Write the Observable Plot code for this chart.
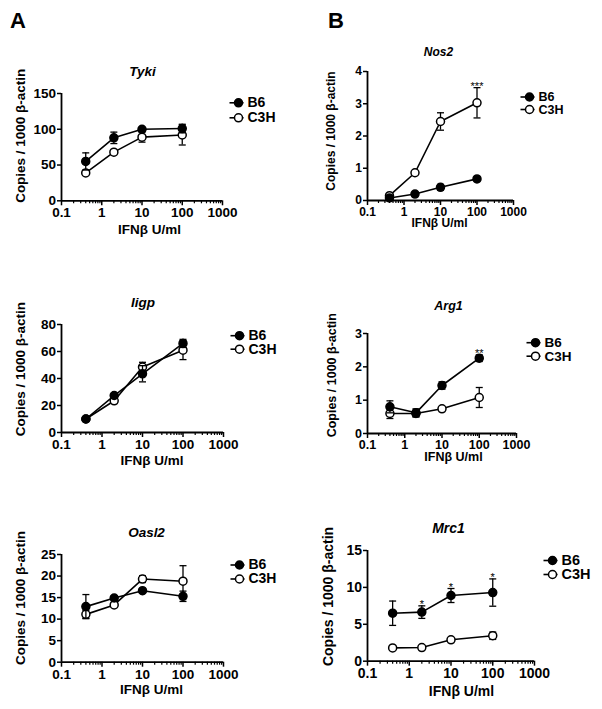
<!DOCTYPE html>
<html><head><meta charset="utf-8">
<script src="https://cdn.jsdelivr.net/npm/d3@7"></script>
<script src="https://cdn.jsdelivr.net/npm/@observablehq/plot@0.6"></script>
<style>
body{margin:0;background:#fff;}
#root{position:relative;width:602px;height:709px;overflow:hidden;font-family:"Liberation Sans",Arial,sans-serif;background:#fff;}
.panel{position:absolute;}
.letter{position:absolute;font-weight:bold;font-size:22px;line-height:1;}
</style></head><body><div id="root"></div>
<script>
// ---- data ----
const doses = [0.4, 2, 10, 100];
const xMajorTicks = [0.1, 1, 10, 100, 1000];
const strains = ["B6", "C3H"];
const xLabel = "IFNβ U/ml";
const yLabel = "Copies / 1000 β-actin";

const tykiB6 = [55, 88, 100, 101];
const tykiB6Err = [12, 8, 2, 6];
const tykiC3H = [39, 68, 89, 92];
const tykiC3HErr = [2, 2, 7, 14];
const tykiTicks = [0, 50, 100, 150];

const nos2B6 = [0.08, 0.2, 0.41, 0.67];
const nos2B6Err = [0.02, 0.03, 0.09, 0.04];
const nos2C3H = [0.15, 0.86, 2.45, 3.03];
const nos2C3HErr = [0.03, 0.04, 0.27, 0.47];
const nos2Stars = ["", "", "", "***"];
const nos2Ticks = [0, 1, 2, 3, 4];

const iigpB6 = [10, 27.4, 43.5, 66];
const iigpB6Err = [1, 1.5, 6, 3];
const iigpC3H = [10, 23.5, 48.5, 61];
const iigpC3HErr = [1, 1.5, 3.5, 7];
const iigpTicks = [0, 20, 40, 60, 80];

const arg1B6 = [0.8, 0.62, 1.44, 2.26];
const arg1B6Err = [0.18, 0.12, 0.11, 0.1];
const arg1C3H = [0.6, 0.6, 0.74, 1.08];
const arg1C3HErr = [0.15, 0.1, 0.04, 0.3];
const arg1Stars = ["", "", "", "**"];
const arg1Ticks = [0, 1, 2, 3];

const oasl2B6 = [12.9, 14.9, 16.6, 15.3];
const oasl2B6Err = [2.8, 0.5, 0.4, 1.2];
const oasl2C3H = [11.1, 13.3, 19.3, 18.8];
const oasl2C3HErr = [0.9, 0.5, 0.8, 3.6];
const oasl2Ticks = [0, 5, 10, 15, 20, 25];

const mrc1B6 = [6.5, 6.65, 8.9, 9.3];
const mrc1B6Err = [1.65, 0.85, 0.95, 1.85];
const mrc1C3H = [1.8, 1.85, 2.9, 3.45];
const mrc1C3HErr = [0.1, 0.1, 0.15, 0.5];
const mrc1Stars = ["", "*", "*", "*"];
const mrc1Ticks = [0, 5, 10, 15];

const minorTicks = [];
for (const dec of [0.1, 1, 10, 100]) for (let k = 2; k <= 9; k++) minorTicks.push(+(dec * k).toPrecision(3));

// ---- layout ----
const panels = [
  {title: "Tyki", col: 0, fx: [61, 222], fy: [92.7, 200], ticks: tykiTicks,
   b6: tykiB6, b6e: tykiB6Err, c3: tykiC3H, c3e: tykiC3HErr, stars: null, starOn: "B6",
   t: [142, 71], xl: [149, 229], yl: [20, 135], lg: [238, 102, 117], lfs: 14, fs: 13.5},
  {title: "Nos2", col: 300, fx: [367, 513], fy: [71, 200], ticks: nos2Ticks,
   b6: nos2B6, b6e: nos2B6Err, c3: nos2C3H, c3e: nos2C3HErr, stars: nos2Stars, starOn: "C3H",
   t: [438, 52], xl: [439, 223], yl: [331, 130.5], lg: [529, 96.5, 109], lfs: 12.5, fs: 12},
  {title: "Iigp", col: 0, fx: [61, 223], fy: [324.3, 432.3], ticks: iigpTicks,
   b6: iigpB6, b6e: iigpB6Err, c3: iigpC3H, c3e: iigpC3HErr, stars: null, starOn: "B6",
   t: [142.5, 302.5], xl: [151.5, 460], yl: [20, 369], lg: [239, 335.5, 349], lfs: 14, fs: 13.5},
  {title: "Arg1", col: 300, fx: [367, 516], fy: [333.3, 433.3], ticks: arg1Ticks,
   b6: arg1B6, b6e: arg1B6Err, c3: arg1C3H, c3e: arg1C3HErr, stars: arg1Stars, starOn: "B6",
   t: [448, 306], xl: [453, 457], yl: [331, 375], lg: [535, 342.5, 356], lfs: 13.5, fs: 12.5},
  {title: "Oasl2", col: 0, fx: [61, 223], fy: [554, 661.7], ticks: oasl2Ticks,
   b6: oasl2B6, b6e: oasl2B6Err, c3: oasl2C3H, c3e: oasl2C3HErr, stars: null, starOn: "B6",
   t: [146, 532.5], xl: [151, 689.5], yl: [20, 597.5], lg: [239, 564.5, 578.5], lfs: 14, fs: 13.5},
  {title: "Mrc1", col: 300, fx: [367, 534], fy: [550, 660.7], ticks: mrc1Ticks,
   b6: mrc1B6, b6e: mrc1B6Err, c3: mrc1C3H, c3e: mrc1C3HErr, stars: mrc1Stars, starOn: "B6",
   t: [448, 528], xl: [461, 691], yl: [328, 596], lg: [552, 560, 574], lfs: 14.5, fs: 14}
];

const capSymbol = {draw(ctx, size) { const r = Math.sqrt(size / Math.PI); ctx.moveTo(-r, 0); ctx.lineTo(r, 0); }};
const legendLine = {draw(ctx) { ctx.moveTo(-9, 0); ctx.lineTo(5, 0); }};
const FONT = "Liberation Sans, Arial, Helvetica, sans-serif";

const root = document.getElementById("root");

function makePanel(p) {
  const width = p.col === 0 ? 300 : 302;
  const svgTop = p.fy[0] - 62;
  const height = (p.fy[1] + 44) - svgTop;
  const marginLeft = p.fx[0] - p.col;
  const marginRight = p.col + width - p.fx[1];
  const marginTop = p.fy[0] - svgTop;
  const marginBottom = svgTop + height - p.fy[1];
  const rows = {B6: [], C3H: []};
  strains.forEach(s => {
    const m = s === "B6" ? p.b6 : p.c3, e = s === "B6" ? p.b6e : p.c3e;
    doses.forEach((d, i) => rows[s].push({strain: s, dose: d, mean: m[i], err: e[i],
      star: (p.stars && s === p.starOn) ? p.stars[i] : ""}));
  });
  const rel = (x, y) => ({frameAnchor: "top-left", dx: x - p.fx[0], dy: y - p.fy[0]});
  const center = {textAnchor: "middle", lineAnchor: "middle"};
  const series = s => [
    Plot.line(rows[s], {x: "dose", y: "mean", stroke: "black", strokeWidth: 1.6}),
    Plot.ruleX(rows[s], {x: "dose", y1: d => d.mean - d.err, y2: d => d.mean + d.err, stroke: "black", strokeWidth: 1.3}),
    Plot.dot(rows[s], {x: "dose", y: d => d.mean + d.err, symbol: capSymbol, r: 3.5, stroke: "black", strokeWidth: 1.3}),
    Plot.dot(rows[s], {x: "dose", y: d => d.mean - d.err, symbol: capSymbol, r: 3.5, stroke: "black", strokeWidth: 1.3}),
    Plot.dot(rows[s], {x: "dose", y: "mean", r: 4, fill: s === "B6" ? "black" : "white", stroke: "black", strokeWidth: 1.5}),
    Plot.text(rows[s].filter(d => d.star), {x: "dose", y: d => d.mean + d.err, text: "star", dy: -1, fontSize: 11, fontWeight: "normal"})
  ];
  const legend = strains.flatMap((s, j) => {
    const ly = p.lg[1 + j];
    return [
      Plot.dot([s], {...rel(p.lg[0], ly), symbol: legendLine, r: 1, stroke: "black", strokeWidth: 1.6}),
      Plot.dot([s], {...rel(p.lg[0], ly), r: 4, fill: s === "B6" ? "black" : "white", stroke: "black", strokeWidth: 1.5}),
      Plot.text([s], {...rel(p.lg[0] + 9, ly), text: d => d, textAnchor: "start", lineAnchor: "middle", fontSize: p.lfs})
    ];
  });
  const chart = Plot.plot({
    width, height, marginLeft, marginRight, marginTop, marginBottom,
    style: {fontFamily: FONT, fontSize: p.fs + "px", fontWeight: "bold", overflow: "visible", background: "transparent", color: "black"},
    x: {type: "log", domain: [0.1, 1000]},
    y: {domain: [0, p.ticks[p.ticks.length - 1]]},
    marks: [
      Plot.axisY({ticks: p.ticks, tickSize: 4, tickPadding: 1.5, strokeWidth: 1.5, label: null, tickFormat: d => String(d)}),
      Plot.axisX({ticks: xMajorTicks, tickSize: 5, tickPadding: 2, strokeWidth: 1.5, label: null, tickFormat: d => String(d)}),
      Plot.axisX({ticks: minorTicks, tickSize: 3, strokeWidth: 1.2, label: null, tickFormat: () => ""}),
      Plot.ruleY([0], {stroke: "black", strokeWidth: 1.8}),
      Plot.ruleX([0.1], {stroke: "black", strokeWidth: 1.8}),
      ...series("C3H"),
      ...series("B6"),
      Plot.text([p.title], {...rel(p.t[0], p.t[1]), ...center, text: d => d, fontStyle: "italic", fontSize: p.fs}),
      Plot.text([xLabel], {...rel(p.xl[0], p.xl[1]), ...center, text: d => d, fontSize: p.fs}),
      Plot.text([yLabel], {...rel(p.yl[0], p.yl[1]), ...center, text: d => d, rotate: -90, fontSize: p.fs}),
      ...legend
    ]
  });
  chart.classList.add("panel");
  chart.style.left = p.col + "px";
  chart.style.top = svgTop + "px";
  root.appendChild(chart);
}
panels.forEach(makePanel);

for (const [t, x] of [["A", 10], ["B", 328]]) {
  const d = document.createElement("div");
  d.className = "letter"; d.textContent = t;
  d.style.left = x + "px"; d.style.top = "10px";
  root.appendChild(d);
}
</script></body></html>
